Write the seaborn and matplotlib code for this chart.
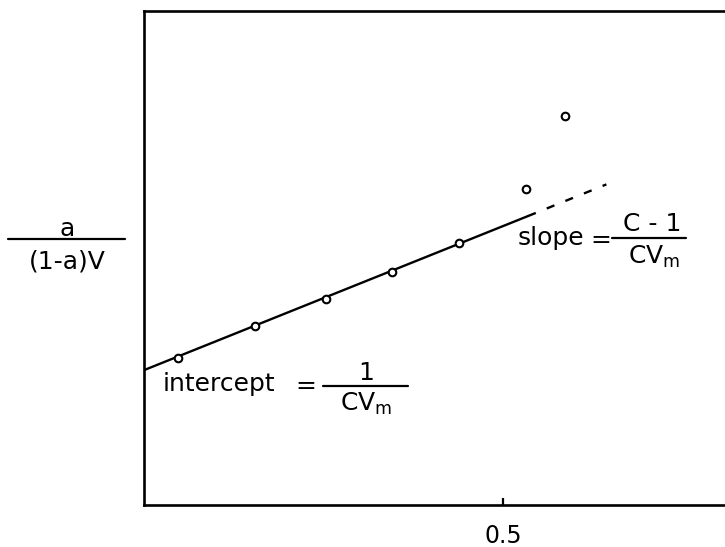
import matplotlib
matplotlib.use("Agg")
import matplotlib.pyplot as plt
import seaborn as sns
import pandas as pd

# --- data ---
rel_pressure = [0.047, 0.155, 0.254, 0.345, 0.439, 0.532, 0.587]
bet_value = [0.298, 0.362, 0.418, 0.472, 0.531, 0.640, 0.788]
fit_x = [0.0, 0.535]
fit_y = [0.273, 0.585]
extrap_x = [0.535, 0.644]
extrap_y = [0.585, 0.649]
xtick_vals = [0.5]
xtick_labels = ["0.5"]

sns.set_style("white")
plt.rcParams['font.family'] = ['DejaVu Sans']
plt.rcParams['mathtext.default'] = 'regular'
plt.rcParams['text.color'] = 'black'
plt.rcParams['xtick.color'] = 'black'
plt.rcParams['xtick.labelcolor'] = 'black'

W, H = 725, 547
fig = plt.figure(figsize=(W / 100, H / 100), dpi=100)
ax = fig.add_axes([144 / W, 1 - 505 / H, 0.85 * 718 / W, (505 - 11) / H])

df_pts = pd.DataFrame({"x": rel_pressure, "y": bet_value})
df_fit = pd.DataFrame({"x": fit_x, "y": fit_y})
df_ext = pd.DataFrame({"x": extrap_x, "y": extrap_y})

sns.lineplot(data=df_fit, x="x", y="y", ax=ax, color="black", lw=1.7,
             zorder=2)
sns.lineplot(data=df_ext, x="x", y="y", ax=ax, color="black", lw=1.7,
             linestyle=(0, (3.5, 5)), zorder=2)
sns.scatterplot(data=df_pts, x="x", y="y", ax=ax, marker="o", s=30,
                facecolor="white", edgecolor="black", linewidth=1.5,
                zorder=3)

ax.set_xlim(0, 0.85)
ax.set_ylim(0, 1)
ax.set_xticks(xtick_vals)
ax.set_xticklabels(xtick_labels, fontsize=17, color="black")
ax.set_yticks([])
ax.tick_params(axis="x", direction="in", length=5, width=1.6, pad=14,
               bottom=True)
ax.set_xlabel("")
ax.set_ylabel("")
for side in ["left", "bottom", "top"]:
    ax.spines[side].set_linewidth(1.9)
    ax.spines[side].set_color("black")
ax.spines["right"].set_visible(False)


def px(x, y):
    return x / W, 1 - y / H


def hline(x0, x1, y, lw=1.6):
    fig.add_artist(plt.Line2D([x0 / W, x1 / W], [1 - y / H, 1 - y / H],
                              color="black", lw=lw, transform=fig.transFigure))


kw = dict(fontsize=18)
# y-axis label as a fraction
fig.text(*px(67, 229), "a", ha="center", va="center", **kw)
hline(8, 125, 239)
fig.text(*px(67, 262), "(1-a)V", ha="center", va="center", **kw)

# intercept annotation
fig.text(*px(163, 384), "intercept", ha="left", va="center", **kw)
fig.text(*px(306, 386), "=", ha="center", va="center", **kw)
hline(323, 408, 386)
fig.text(*px(366, 373), "1", ha="center", va="center", **kw)
fig.text(*px(366, 404), "CV$_m$", ha="center", va="center", **kw)

# slope annotation
fig.text(*px(518, 238), "slope", ha="left", va="center", **kw)
fig.text(*px(601, 240), "=", ha="center", va="center", **kw)
hline(612, 686, 238)
fig.text(*px(652, 224), "C - 1", ha="center", va="center", **kw)
fig.text(*px(654, 257), "CV$_m$", ha="center", va="center", **kw)

fig.savefig("out.png", dpi=100)
